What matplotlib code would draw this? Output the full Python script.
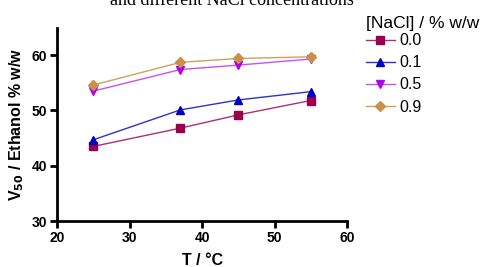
import matplotlib

matplotlib.use("Agg")
import matplotlib.pyplot as plt

temps = [25, 37, 45, 55]
nacl_labels = ["0.0", "0.1", "0.5", "0.9"]
v50_00 = [43.5, 46.8, 49.2, 51.8]
v50_01 = [44.7, 50.1, 51.9, 53.4]
v50_05 = [53.5, 57.4, 58.2, 59.3]
v50_09 = [54.6, 58.7, 59.4, 59.7]

series = [v50_00, v50_01, v50_05, v50_09]
markers = ["s", "^", "v", "D"]
marker_colors = ["#990050", "#0000c0", "#b000f0", "#c89048"]
line_colors = ["#b0306a", "#3030d0", "#c850f8", "#d0a060"]
marker_sizes = [5.5, 6, 6, 5]

plt.rcParams["font.family"] = ["Liberation Sans", "DejaVu Sans"]

fig = plt.figure(figsize=(4.8, 2.67), dpi=100)
ax = fig.add_axes([0.119, 0.172, 0.604, 0.725])

for vals, mk, mc, lc, ms, lab in zip(series, markers, marker_colors, line_colors, marker_sizes, nacl_labels):
    ax.plot(temps, vals, color=lc, linewidth=1.0, marker=mk, markersize=ms,
            markerfacecolor=mc, markeredgecolor=mc, label=lab)

ax.set_xlim(20, 60)
ax.set_ylim(30, 65)
ax.set_xticks([20, 30, 40, 50, 60])
ax.set_yticks([30, 40, 50, 60])
for side in ["top", "right"]:
    ax.spines[side].set_visible(False)
for side in ["left", "bottom"]:
    ax.spines[side].set_linewidth(2)
ax.tick_params(width=2, length=5, labelsize=10, pad=2)
for lbl in ax.get_xticklabels() + ax.get_yticklabels():
    lbl.set_fontweight("bold")

ax.set_xlabel("T / °C", fontsize=11.5, fontweight="bold", labelpad=6)
ax.set_ylabel("V$_{\\mathbf{50}}$ / Ethanol % w/w", fontsize=11.5, fontweight="bold", labelpad=4)

fig.text(0.483, 0.98, "and different NaCl concentrations", ha="center", va="baseline",
         fontsize=13, family="Liberation Serif")

leg = fig.legend(loc="upper left", bbox_to_anchor=(0.762, 0.94), frameon=False,
                 title="[NaCl] / % w/w", fontsize=11.5, title_fontsize=12.5,
                 handlelength=1.8, handletextpad=0.3, labelspacing=0.45,
                 borderaxespad=0, borderpad=0)
leg._legend_box.align = "left"
leg._legend_box.sep = 1.5

fig.savefig("out.png", dpi=100)
